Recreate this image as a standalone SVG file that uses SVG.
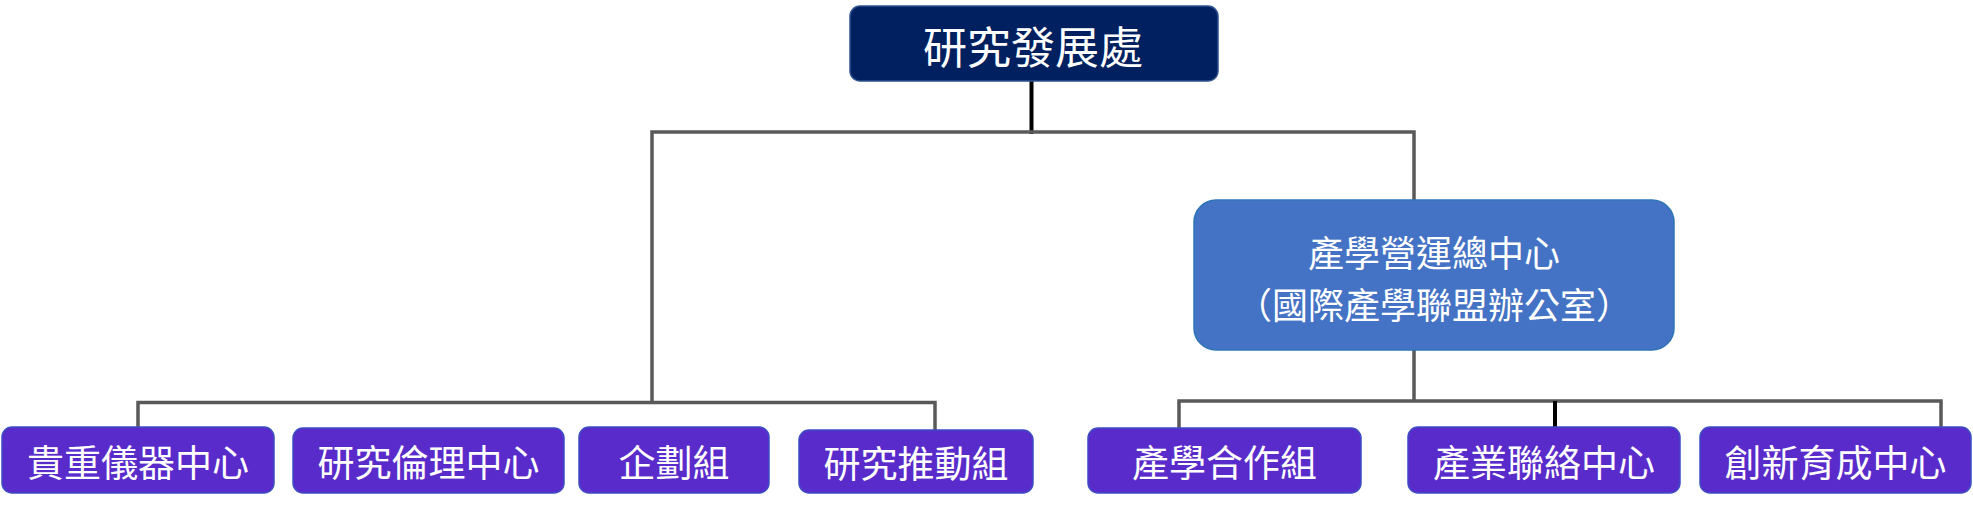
<svg xmlns="http://www.w3.org/2000/svg" width="1973" height="507" viewBox="0 0 1973 507">
<style>
  .t { font-family: "Noto Sans CJK TC", "Noto Sans CJK SC", sans-serif; fill: #FFFFFF; text-anchor: middle; dominant-baseline: central; }
  .leaf rect { fill: #5A2BCB; stroke: #3D4CC2; stroke-width: 1.5; }
  .leaf text { font-size: 37px; }
  .gray { stroke: #595959; stroke-width: 3.5; fill: none; }
  .blk { stroke: #000000; stroke-width: 4; fill: none; }
</style>
<rect width="1973" height="507" fill="#FFFFFF"/>
<g id="connectors">
  <line class="blk" x1="1031.5" y1="81" x2="1031.5" y2="134"/>
  <polyline class="gray" points="652,402.5 652,132 1414,132 1414,200"/>
  <line class="gray" x1="1414" y1="350" x2="1414" y2="401"/>
  <polyline class="gray" points="138,427 138,402.5 935,402.5 935,430"/>
  <polyline class="gray" points="1179,428 1179,401 1941,401 1941,427"/>
  <line class="blk" x1="1555" y1="401" x2="1555" y2="427"/>
</g>
<g id="n-top">
  <rect x="850" y="6" width="368" height="75" rx="10" fill="#002060" stroke="#2F528F" stroke-width="1.5"/>
  <text class="t" x="1033" y="45" font-size="44">研究發展處</text>
</g>
<g id="n-mid">
  <rect x="1194" y="200" width="480" height="150" rx="22" fill="#4472C4" stroke="#2E75B6" stroke-width="1.5"/>
  <text class="t" x="1434" y="251" font-size="36">產學營運總中心</text>
  <text class="t" x="1434" y="303" font-size="36">（國際產學聯盟辦公室）</text>
</g>
<g id="n1" class="leaf">
  <rect x="2" y="427" width="272" height="66" rx="10"/>
  <text class="t" x="138" y="461">貴重儀器中心</text>
</g>
<g id="n2" class="leaf">
  <rect x="293" y="428" width="271" height="65" rx="10"/>
  <text class="t" x="428.5" y="461">研究倫理中心</text>
</g>
<g id="n3" class="leaf">
  <rect x="579" y="427" width="190" height="66" rx="10"/>
  <text class="t" x="674" y="461">企劃組</text>
</g>
<g id="n4" class="leaf">
  <rect x="799" y="430" width="234" height="63" rx="10"/>
  <text class="t" x="916" y="462">研究推動組</text>
</g>
<g id="n5" class="leaf">
  <rect x="1088" y="428" width="273" height="65" rx="10"/>
  <text class="t" x="1224.5" y="461">產學合作組</text>
</g>
<g id="n6" class="leaf">
  <rect x="1408" y="427" width="272" height="66" rx="10"/>
  <text class="t" x="1544" y="461">產業聯絡中心</text>
</g>
<g id="n7" class="leaf">
  <rect x="1700" y="427" width="271" height="66" rx="10"/>
  <text class="t" x="1835.5" y="461">創新育成中心</text>
</g>
</svg>
